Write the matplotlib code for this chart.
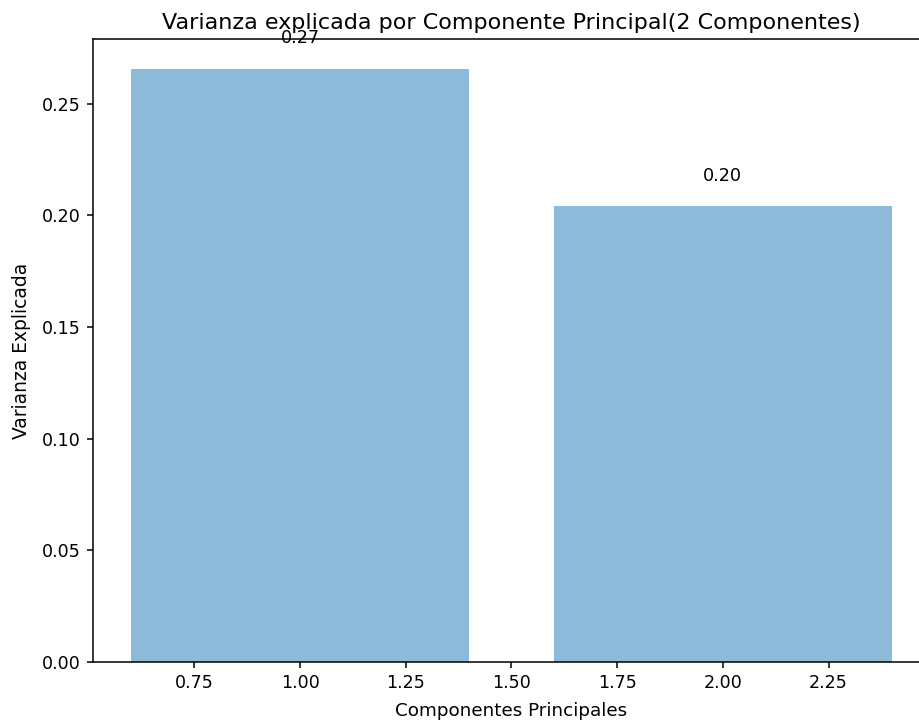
import matplotlib
matplotlib.use("Agg")
import matplotlib.pyplot as plt

componentes = [1, 2]
varianza = [0.2657, 0.2043]
etiquetas = ["0.27", "0.20"]

fig = plt.figure(figsize=(9.2, 7.23), dpi=100)
ax = fig.add_axes([93/920, 61/723, 837/920, 623/723])
bars = ax.bar(componentes, varianza, alpha=0.5, align='center')
for x, v, t in zip(componentes, varianza, etiquetas):
    ax.text(x, v + 0.0095, t, ha='center', va='bottom', fontsize=12.7)
ax.set_xlabel('Componentes Principales', fontsize=13.2, labelpad=7)
ax.set_ylabel('Varianza Explicada', fontsize=13.4, labelpad=8)
ax.set_title('Varianza explicada por Componente Principal(2 Componentes)', fontsize=16, pad=7)
ax.tick_params(labelsize=12.6, length=4.5, width=1.1, pad=4.5)
for s in ax.spines.values():
    s.set_linewidth(1.1)
fig.savefig('out.png', dpi=100)
